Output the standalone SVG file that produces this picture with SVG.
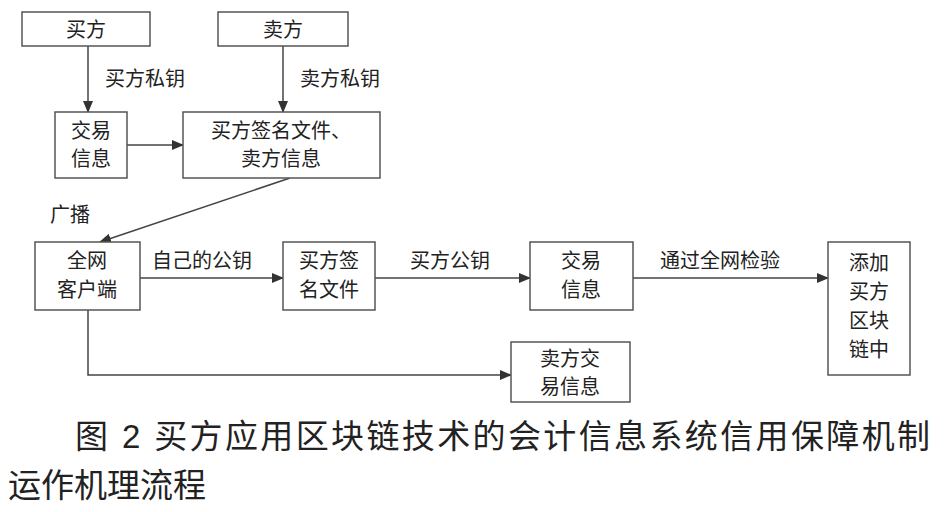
<svg xmlns="http://www.w3.org/2000/svg" width="944" height="512" viewBox="0 0 944 512">
<defs>
<marker id="ah" markerWidth="12" markerHeight="10" refX="11" refY="5" orient="auto" markerUnits="userSpaceOnUse"><path d="M0,0 L12,5 L0,10 Z" fill="#333"/></marker>
<style>
rect{fill:#fff;stroke:#555;stroke-width:1.5}
text{font-family:"Liberation Sans","Noto Sans CJK SC",sans-serif;font-size:20px;fill:#222;text-anchor:middle}
.l{text-anchor:start}
.c{font-size:33px;text-anchor:start}
#edges path,#edges line{stroke:#444;stroke-width:1.5;fill:none;marker-end:url(#ah)}
</style>
</defs>
<rect x="0" y="0" width="944" height="512" style="fill:#fff;stroke:none"/>
<g id="edges">
<line x1="88" y1="46" x2="88" y2="112"/>
<line x1="283" y1="46" x2="283" y2="112"/>
<line x1="127" y1="145" x2="183" y2="145"/>
<line x1="290" y1="178" x2="100" y2="242"/>
<line x1="140" y1="278" x2="283" y2="278"/>
<line x1="375" y1="278" x2="530" y2="278"/>
<line x1="633" y1="278" x2="828" y2="278"/>
<path d="M88,310 V375 H511"/>
<text class="l" x="105" y="86">买方私钥</text>
<text class="l" x="300" y="86">卖方私钥</text>
<text class="l" x="50" y="222">广播</text>
<text class="l" x="152" y="268">自己的公钥</text>
<text class="l" x="410" y="268">买方公钥</text>
<text class="l" x="660" y="268">通过全网检验</text>
</g>
<g id="n1"><rect x="22" y="12" width="128" height="34"/><text x="86" y="37">买方</text></g>
<g id="n2"><rect x="218" y="12" width="130" height="34"/><text x="283" y="37">卖方</text></g>
<g id="n3"><rect x="55" y="112" width="72" height="66"/><text x="91" y="138">交易</text><text x="91" y="166">信息</text></g>
<g id="n4"><rect x="183" y="112" width="197" height="66"/><text x="281" y="138">买方签名文件、</text><text x="281" y="166">卖方信息</text></g>
<g id="n5"><rect x="35" y="242" width="105" height="68"/><text x="87" y="268">全网</text><text x="87" y="297">客户端</text></g>
<g id="n6"><rect x="283" y="242" width="92" height="68"/><text x="329" y="268">买方签</text><text x="329" y="297">名文件</text></g>
<g id="n7"><rect x="530" y="242" width="103" height="68"/><text x="581" y="268">交易</text><text x="581" y="297">信息</text></g>
<g id="n8"><rect x="828" y="242" width="82" height="133"/><text x="869" y="270">添加</text><text x="869" y="299">买方</text><text x="869" y="328">区块</text><text x="869" y="357">链中</text></g>
<g id="n9"><rect x="511" y="342" width="119" height="60"/><text x="570" y="366">卖方交</text><text x="570" y="394">易信息</text></g>
<text class="c" x="75" y="448" textLength="855">图 2 买方应用区块链技术的会计信息系统信用保障机制</text>
<text class="c" x="8" y="497">运作机理流程</text>
</svg>
